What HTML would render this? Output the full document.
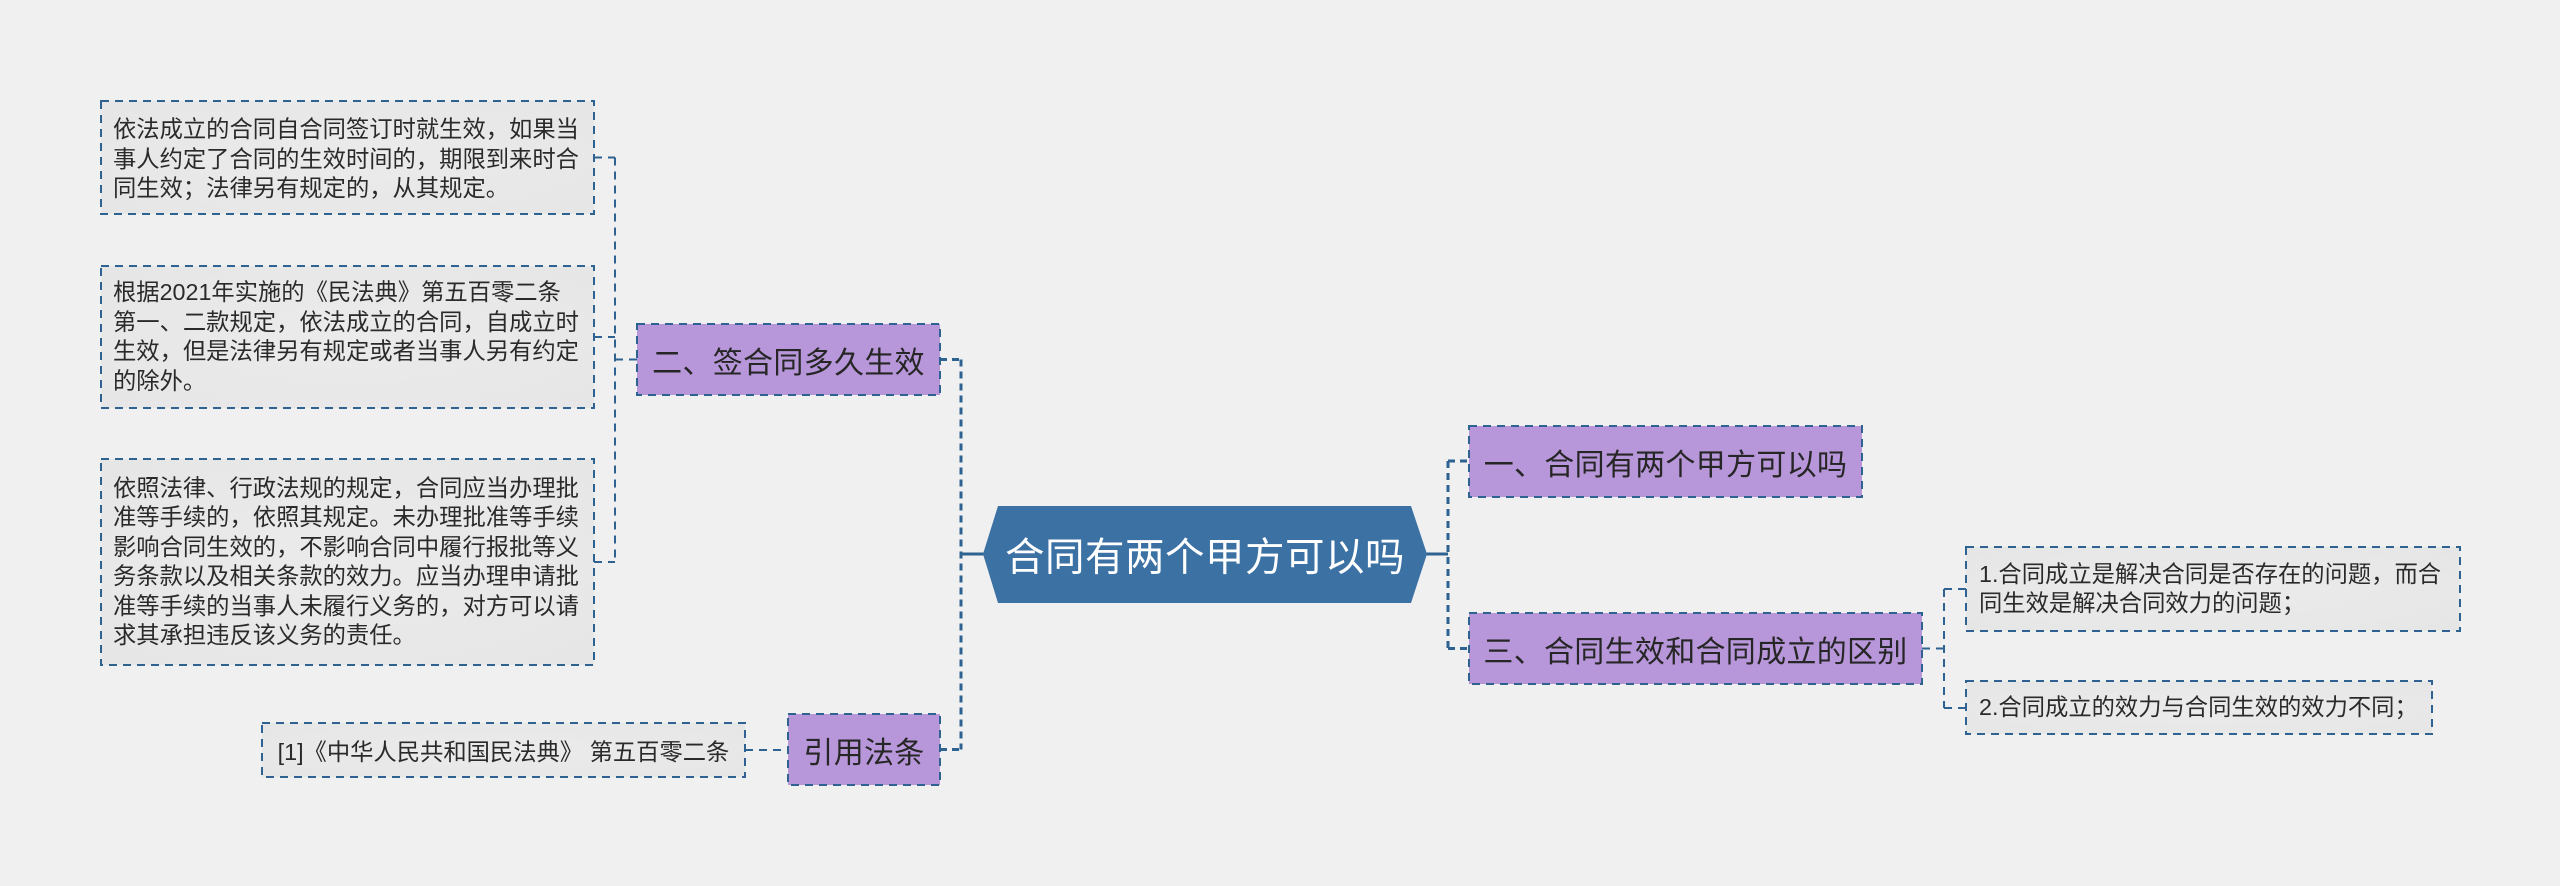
<!DOCTYPE html>
<html>
<head>
<meta charset="utf-8">
<style>
html,body{margin:0;padding:0;}
body{width:2560px;height:886px;background:#f0f0f0;position:relative;overflow:hidden;
font-family:"Liberation Sans","Noto Sans CJK SC",sans-serif;}
svg{position:absolute;left:0;top:0;}
.t{position:absolute;white-space:nowrap;color:#2a2a2a;font-size:23.3px;line-height:29.4px;}
.n{position:absolute;display:flex;align-items:center;justify-content:center;white-space:nowrap;color:#262626;font-size:30px;letter-spacing:0.3px;}
</style>
</head>
<body>
<svg width="2560" height="886" viewBox="0 0 2560 886">
  <defs>
    <radialGradient id="g" cx="50%" cy="50%" r="70%">
      <stop offset="0%" stop-color="#ebebeb"/>
      <stop offset="100%" stop-color="#e6e6e6"/>
    </radialGradient>
  </defs>
  <g fill="none" stroke="#2e6391" stroke-width="2" stroke-dasharray="8 6">
    <!-- left group -->
    <line x1="615" y1="157.5" x2="615" y2="562"/>
    <line x1="594" y1="157.5" x2="615" y2="157.5"/>
    <line x1="594" y1="337" x2="615" y2="337"/>
    <line x1="594" y1="562" x2="615" y2="562"/>
    <line x1="615" y1="359.5" x2="637" y2="359.5"/>
    <!-- citation -->
    <line x1="745" y1="750" x2="788" y2="750"/>
    <!-- right group -->
    <line x1="1944" y1="589" x2="1944" y2="708"/>
    <line x1="1922" y1="648.5" x2="1944" y2="648.5"/>
    <line x1="1944" y1="589" x2="1966" y2="589"/>
    <line x1="1944" y1="708" x2="1966" y2="708"/>
  </g>
  <g fill="none" stroke="#2e6391" stroke-width="3" stroke-dasharray="7 5">
    <line x1="961" y1="359.5" x2="961" y2="749.5"/>
    <line x1="940" y1="359.5" x2="961" y2="359.5"/>
    <line x1="940" y1="749.5" x2="961" y2="749.5"/>
    <line x1="1448" y1="461" x2="1448" y2="648.5"/>
    <line x1="1448" y1="461" x2="1469" y2="461"/>
    <line x1="1448" y1="648.5" x2="1469" y2="648.5"/>
  </g>
  <g stroke="#2e6391" stroke-width="3">
    <line x1="961" y1="554" x2="984" y2="554"/>
    <line x1="1426" y1="554" x2="1448" y2="554"/>
  </g>
  <!-- leaf boxes -->
  <g fill="url(#g)" stroke="#2e6391" stroke-width="2" stroke-dasharray="8 6">
    <rect x="101" y="101" width="493" height="113"/>
    <rect x="101" y="266" width="493" height="142"/>
    <rect x="101" y="459" width="493" height="206"/>
    <rect x="262" y="723" width="483" height="54"/>
    <rect x="1966" y="547" width="494" height="84"/>
    <rect x="1966" y="681" width="466" height="53"/>
  </g>
  <!-- purple nodes -->
  <g fill="#b797d9" stroke="#2e6391" stroke-width="2" stroke-dasharray="8 6">
    <rect x="637" y="324" width="303" height="71"/>
    <rect x="788" y="714" width="152" height="71"/>
    <rect x="1469" y="426" width="393" height="71"/>
    <rect x="1469" y="613" width="453" height="71"/>
  </g>
  <!-- central hexagon -->
  <polygon points="983,554 998,506 1411,506 1427,554 1411,603 998,603" fill="#3c71a4"/>
</svg>

<div class="t" style="left:113px;top:115.3px;">依法成立的合同自合同签订时就生效，如果当<br>事人约定了合同的生效时间的，期限到来时合<br>同生效；法律另有规定的，从其规定。</div>
<div class="t" style="left:113px;top:278.4px;">根据2021年实施的《民法典》第五百零二条<br>第一、二款规定，依法成立的合同，自成立时<br>生效，但是法律另有规定或者当事人另有约定<br>的除外。</div>
<div class="t" style="left:113px;top:474px;">依照法律、行政法规的规定，合同应当办理批<br>准等手续的，依照其规定。未办理批准等手续<br>影响合同生效的，不影响合同中履行报批等义<br>务条款以及相关条款的效力。应当办理申请批<br>准等手续的当事人未履行义务的，对方可以请<br>求其承担违反该义务的责任。</div>
<div class="n" style="left:262px;top:723px;width:483px;height:54px;font-size:23.3px;letter-spacing:0;color:#2a2a2a;">[1]《中华人民共和国民法典》 第五百零二条</div>
<div class="t" style="left:1979px;top:559.7px;">1.合同成立是解决合同是否存在的问题，而合<br>同生效是解决合同效力的问题；</div>
<div class="t" style="left:1979px;top:692.8px;">2.合同成立的效力与合同生效的效力不同；</div>

<div class="n" style="left:637px;top:324px;width:303px;height:71px;">二、签合同多久生效</div>
<div class="n" style="left:788px;top:714px;width:152px;height:71px;">引用法条</div>
<div class="n" style="left:1469px;top:426px;width:393px;height:71px;">一、合同有两个甲方可以吗</div>
<div class="n" style="left:1469px;top:613px;width:453px;height:71px;">三、合同生效和合同成立的区别</div>

<div class="n" style="left:983px;top:506px;width:444px;height:97px;font-size:39.5px;letter-spacing:0.5px;color:#ffffff;">合同有两个甲方可以吗</div>
</body>
</html>
